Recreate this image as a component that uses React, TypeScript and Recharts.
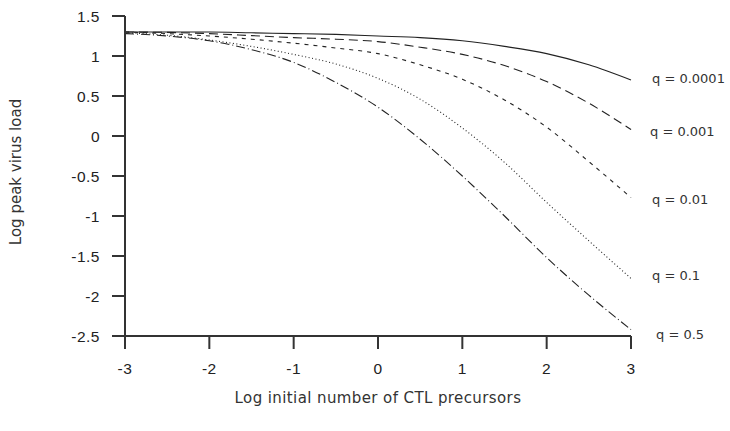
import React from 'react';
import { LineChart, Line, XAxis, YAxis } from 'recharts';

const xValues = [-3, -2.5, -2, -1.5, -1, -0.5, 0, 0.5, 1, 1.5, 2, 2.5, 3];
const q0001 = [1.30, 1.30, 1.30, 1.29, 1.28, 1.27, 1.25, 1.23, 1.19, 1.12, 1.03, 0.89, 0.70];
const q001 = [1.30, 1.295, 1.28, 1.255, 1.23, 1.21, 1.18, 1.11, 1.02, 0.88, 0.68, 0.41, 0.08];
const q01 = [1.30, 1.28, 1.25, 1.21, 1.16, 1.10, 1.03, 0.89, 0.71, 0.45, 0.11, -0.32, -0.77];
const q1 = [1.29, 1.26, 1.20, 1.12, 1.02, 0.90, 0.72, 0.46, 0.10, -0.33, -0.83, -1.31, -1.78];
const q5 = [1.28, 1.25, 1.19, 1.08, 0.92, 0.67, 0.36, -0.04, -0.50, -1.00, -1.52, -1.99, -2.42];
const seriesNames = ['q = 0.0001', 'q = 0.001', 'q = 0.01', 'q = 0.1', 'q = 0.5'];
const xTicks = [-3, -2, -1, 0, 1, 2, 3];
const yTicks = [-2.5, -2, -1.5, -1, -0.5, 0, 0.5, 1, 1.5];

const seriesValues = [q0001, q001, q01, q1, q5];
const data = xValues.map((x, i) => {
  const row: Record<string, number> = { x };
  seriesValues.forEach((s, k) => { row['s' + k] = s[i]; });
  return row;
});

const dashes = ['', '9 5', '4 5', '1 2.5', '9 3 1 3'];
const labelOffsets = [
  { dx: 21, dy: -1 },
  { dx: 19, dy: 3 },
  { dx: 21, dy: 3 },
  { dx: 21, dy: -2 },
  { dx: 25, dy: 6 },
];

const lineColor = '#222';
const axisColor = '#333';
const tickFont = { fontFamily: '"Liberation Sans", Arial, sans-serif', fontSize: 15.5, letterSpacing: 0.5, fill: '#222' };
const titleFont = '"DejaVu Sans", sans-serif';

const makeEndLabel = (k: number) => (props: any) => {
  const { x, y, index } = props;
  if (index !== xValues.length - 1) return <g />;
  return (
    <text
      x={x + labelOffsets[k].dx}
      y={y + labelOffsets[k].dy}
      dominantBaseline="middle"
      fontFamily={titleFont}
      fontSize={13}
      fill="#333"
    >
      {seriesNames[k]}
    </text>
  );
};

export default function App() {
  return (
    <div style={{ position: 'absolute', left: 0, top: 0, width: 730, height: 431, background: '#fff' }}>
      <LineChart width={730} height={431} data={data} margin={{ top: 16, right: 99, bottom: 0, left: 0 }}>
        <XAxis
          dataKey="x"
          type="number"
          domain={[-3, 3]}
          ticks={xTicks}
          height={95}
          stroke={axisColor}
          strokeWidth={2}
          tickSize={13}
          tickMargin={14}
          tick={tickFont}
          tickLine={{ stroke: axisColor, strokeWidth: 2 }}
          label={{
            content: (p: any) => {
              const vb = p.viewBox;
              return (
                <text x={vb.x + vb.width / 2} y={vb.y + 67} textAnchor="middle" fontFamily={titleFont} fontSize={15} letterSpacing={0.4} fill="#333">
                  Log initial number of CTL precursors
                </text>
              );
            },
          }}
        />
        <YAxis
          type="number"
          domain={[-2.5, 1.5]}
          ticks={yTicks}
          width={125}
          stroke={axisColor}
          strokeWidth={2}
          tickSize={13}
          tickMargin={12}
          tick={tickFont}
          tickLine={{ stroke: axisColor, strokeWidth: 2 }}
          label={{
            content: (p: any) => {
              const vb = p.viewBox;
              const cx = vb.x + 16;
              const cy = vb.y + vb.height / 2 - 4;
              return (
                <text x={cx} y={cy} textAnchor="middle" dominantBaseline="middle" transform={`rotate(-90 ${cx} ${cy})`} fontFamily={titleFont} fontSize={15} fill="#333">
                  Log peak virus load
                </text>
              );
            },
          }}
        />
        {seriesValues.map((_, k) => (
          <Line
            key={k}
            dataKey={'s' + k}
            type="monotone"
            stroke={lineColor}
            strokeWidth={1.1}
            strokeDasharray={dashes[k] || undefined}
            dot={false}
            activeDot={false}
            isAnimationActive={false}
            label={makeEndLabel(k)}
          />
        ))}
      </LineChart>
    </div>
  );
}
